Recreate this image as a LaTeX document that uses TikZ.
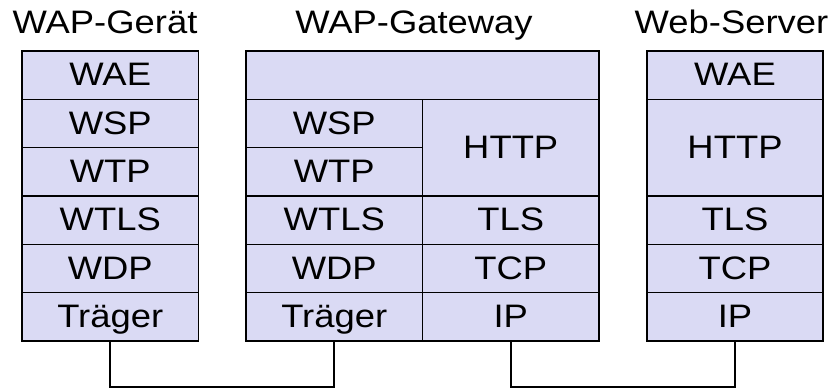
\documentclass[tikz,border=0pt]{standalone}
\usepackage{fontspec}
\setmainfont{Liberation Sans}
\newfontfamily\labelfont[FakeStretch=1.12]{Liberation Sans}
\definecolor{layerfill}{RGB}{218,218,244}
\begin{document}
\begin{tikzpicture}[x=1pt,y=-1pt,
  layer/.style={draw=black,line width=1.6pt,fill=layerfill,inner sep=0pt,
    minimum width=176.5pt,minimum height=48.33pt,
    font=\labelfont\fontsize{32.5}{34}\selectfont,text height=23pt,text depth=1.5pt},
  tall/.style={layer,minimum height=96.67pt},
  wide/.style={layer,minimum width=353pt},
  title/.style={anchor=base,font=\labelfont\fontsize{32.5}{34}\selectfont,inner sep=0pt},
  link/.style={draw=black,line width=1.6pt}]
\useasboundingbox (0,0) rectangle (836,389);

% row centres
\def\rA{75.17}\def\rB{123.5}\def\rC{171.83}\def\rD{220.17}\def\rE{268.5}\def\rF{316.83}
\def\rBC{147.67}

% WAP device stack
\node[title] (tdev) at (105,33.3) {WAP-Gerät};
\node[layer] (dWAE) at (110.25,\rA) {WAE};
\node[layer] (dWSP) at (110.25,\rB) {WSP};
\node[layer] (dWTP) at (110.25,\rC) {WTP};
\node[layer] (dWTLS) at (110.25,\rD) {WTLS};
\node[layer] (dWDP) at (110.25,\rE) {WDP};
\node[layer] (dTr) at (110.25,\rF) {Träger};

% gateway stack
\node[title] (tgw) at (414,33.3) {WAP-Gateway};
\node[wide] (gTop) at (422.5,\rA) {};
\node[layer] (gWSP) at (334.25,\rB) {WSP};
\node[layer] (gWTP) at (334.25,\rC) {WTP};
\node[layer] (gWTLS) at (334.25,\rD) {WTLS};
\node[layer] (gWDP) at (334.25,\rE) {WDP};
\node[layer] (gTr) at (334.25,\rF) {Träger};
\node[tall] (gHTTP) at (510.75,\rBC) {HTTP};
\node[layer] (gTLS) at (510.75,\rD) {TLS};
\node[layer] (gTCP) at (510.75,\rE) {TCP};
\node[layer] (gIP) at (510.75,\rF) {IP};

% web server stack
\node[title] (tweb) at (731.5,33.3) {Web-Server};
\node[layer] (sWAE) at (735,\rA) {WAE};
\node[tall] (sHTTP) at (735,\rBC) {HTTP};
\node[layer] (sTLS) at (735,\rD) {TLS};
\node[layer] (sTCP) at (735,\rE) {TCP};
\node[layer] (sIP) at (735,\rF) {IP};

% physical links
\coordinate (floor) at (0,387);
\draw[link] (dTr.south) -- (dTr.south |- floor) -| (gTr.south);
\draw[link] (gIP.south) -- (gIP.south |- floor) -| (sIP.south);
\end{tikzpicture}
\end{document}
